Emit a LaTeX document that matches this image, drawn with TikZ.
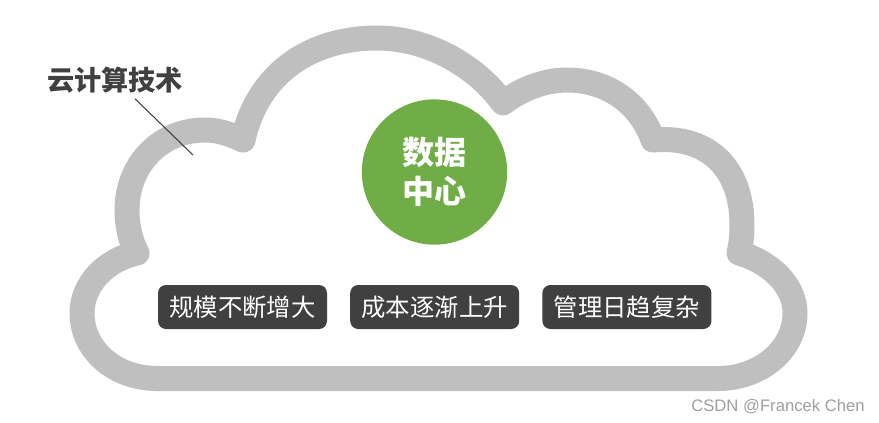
\documentclass[tikz,border=0pt]{standalone}
\usepackage{fontspec}
\setmainfont{Noto Sans CJK SC}
\newfontfamily\markfont{Liberation Sans}
\usetikzlibrary{positioning}
\definecolor{cloud_gray}{HTML}{BFBFBF}
\definecolor{box_gray}{HTML}{404040}
\definecolor{core_green}{HTML}{70AD47}
\tikzset{
  treenode/.style = {align=center, inner sep=0pt, text centered},
  cloud_line/.style = {draw=cloud_gray, line width=18.75pt, line cap=round,
    line join=round},% contour du nuage
  core_node/.style = {treenode, circle, white, fill=core_green,
    minimum size=109pt, font=\fontsize{24}{29}\selectfont\bfseries},
  tag_node/.style = {treenode, rectangle, rounded corners=6pt, white, fill=box_gray,
    minimum width=126.75pt, minimum height=33pt,
    font=\fontsize{18.3}{22}\selectfont},
  title_node/.style = {treenode, text=box_gray,
    font=\fontsize{20.4}{24}\selectfont\bfseries},
  mark_node/.style = {treenode, text=black!38,
    font=\markfont\fontsize{12.5}{15}\selectfont}
}
\begin{document}
\begin{tikzpicture}[x=.75pt, y=-.75pt]
      \useasboundingbox (0,0) rectangle (879,422);
      \draw [cloud_line] (137,253)
          .. controls (130,240) and (127,225) .. (127,210)
          .. controls (127,165) and (160,130) .. (205,130)
          .. controls (220,130) and (232,135) .. (243,140)
          .. controls (258,72) and (312,38) .. (377,38)
          .. controls (430,38) and (478,68) .. (503,103)
          .. controls (520,90) and (543,80) .. (567,80)
          .. controls (607,80) and (640,103) .. (653,140)
          .. controls (708,135) and (742,168) .. (742,225)
          .. controls (742,235) and (741,245) .. (739,253)
          .. controls (770,262) and (795,285) .. (795,313)
          .. controls (795,350) and (760,378.5) .. (718,378.5)
          -- (157,378.5)
          .. controls (115,378.5) and (82,350) .. (82,313)
          .. controls (82,285) and (105,260) .. (137,253)
          -- cycle;
      \node [core_node] (core) at (434.5,172) {数据\\中心};
      \node [tag_node] (tag_a) at (242.5,307) {规模不断增大};
      \node [tag_node, right=17pt of tag_a] (tag_b) {成本逐渐上升};
      \node [tag_node, right=17pt of tag_b] (tag_c) {管理日趋复杂};
      \node [title_node] (title) at (115,80) {云计算技术};
      \coordinate (title_end) at (193,155);
      \draw [box_gray, line width=.8pt] ([xshift=15pt, yshift=-4pt]title.south) -- (title_end);
      \node [mark_node] (mark) at (778,407) {CSDN @Francek Chen};
    \end{tikzpicture}
\end{document}
